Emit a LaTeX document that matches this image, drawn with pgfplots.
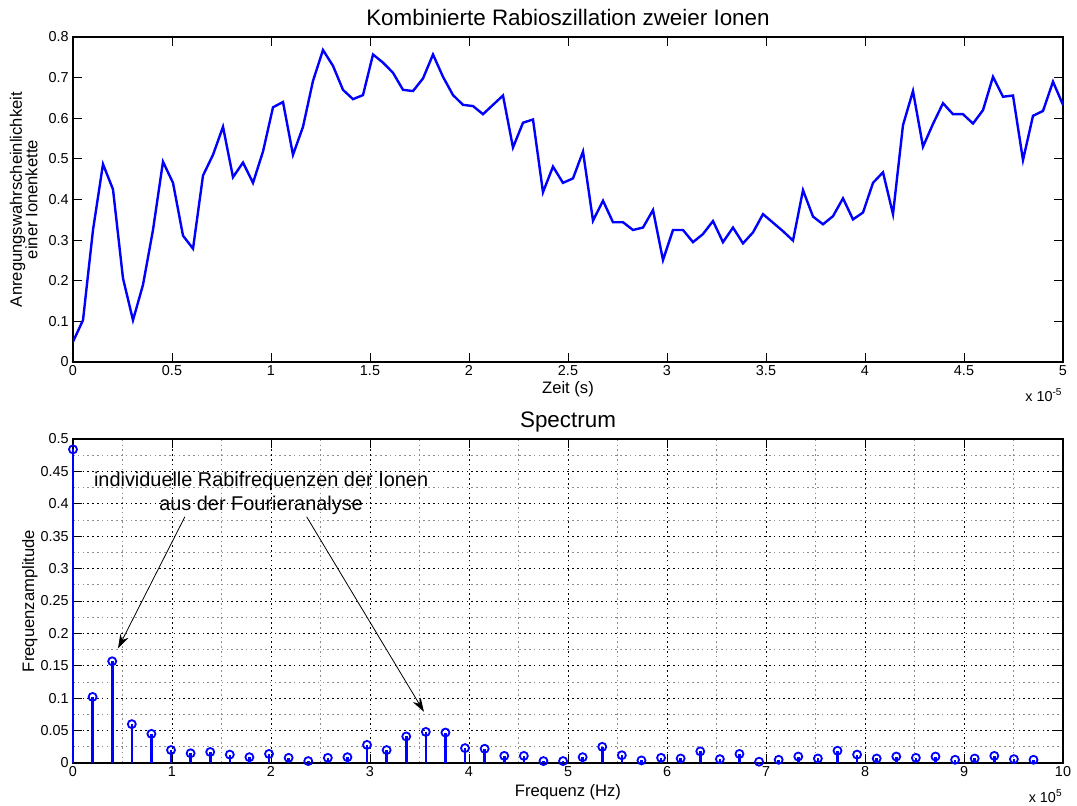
\documentclass[border=0pt]{standalone}
\usepackage{pgfplots}
\pgfplotsset{compat=1.18}
\usepackage{pgfplotstable}
\usepackage{fontspec}
\setmainfont{Liberation Sans}
\usetikzlibrary{arrows.meta}

% Rabi oscillation of the two-ion chain (time in units of 1e-5 s)
\pgfplotstableread{
t y
0.0000 0.050
0.0505 0.103
0.1010 0.325
0.1515 0.487
0.2020 0.425
0.2525 0.206
0.3030 0.103
0.3535 0.190
0.4040 0.325
0.4545 0.493
0.5051 0.441
0.5556 0.311
0.6061 0.279
0.6566 0.459
0.7071 0.510
0.7576 0.579
0.8081 0.455
0.8586 0.491
0.9091 0.441
0.9596 0.518
1.0101 0.627
1.0606 0.640
1.1111 0.510
1.1616 0.579
1.2121 0.692
1.2626 0.768
1.3131 0.729
1.3636 0.670
1.4141 0.647
1.4646 0.657
1.5152 0.757
1.5657 0.737
1.6162 0.712
1.6667 0.670
1.7172 0.667
1.7677 0.698
1.8182 0.757
1.8687 0.702
1.9192 0.657
1.9697 0.633
2.0202 0.630
2.0707 0.610
2.1212 0.633
2.1717 0.656
2.2222 0.528
2.2727 0.589
2.3232 0.597
2.3737 0.418
2.4242 0.481
2.4747 0.441
2.5253 0.452
2.5758 0.518
2.6263 0.348
2.6768 0.397
2.7273 0.344
2.7778 0.344
2.8283 0.325
2.8788 0.331
2.9293 0.374
2.9798 0.251
3.0303 0.325
3.0808 0.325
3.1313 0.295
3.1818 0.315
3.2323 0.347
3.2828 0.295
3.3333 0.331
3.3838 0.292
3.4343 0.319
3.4848 0.364
3.5354 0.343
3.5859 0.322
3.6364 0.299
3.6869 0.423
3.7374 0.358
3.7879 0.339
3.8384 0.359
3.8889 0.403
3.9394 0.351
3.9899 0.368
4.0404 0.441
4.0909 0.467
4.1414 0.364
4.1919 0.583
4.2424 0.667
4.2929 0.530
4.3434 0.586
4.3939 0.637
4.4444 0.610
4.4949 0.610
4.5455 0.587
4.5960 0.620
4.6465 0.702
4.6970 0.653
4.7475 0.656
4.7980 0.497
4.8485 0.606
4.8990 0.618
4.9495 0.690
5.0000 0.633
}\rabidata

% Fourier spectrum (frequency in units of 1e5 Hz)
\pgfplotstableread{
f a
0.000 0.484
0.198 0.102
0.396 0.157
0.594 0.060
0.792 0.045
0.990 0.020
1.188 0.015
1.386 0.017
1.584 0.013
1.782 0.009
1.980 0.014
2.178 0.008
2.376 0.003
2.574 0.008
2.772 0.009
2.970 0.028
3.168 0.020
3.366 0.041
3.564 0.048
3.762 0.047
3.960 0.023
4.158 0.022
4.356 0.011
4.554 0.011
4.752 0.003
4.950 0.003
5.148 0.009
5.346 0.025
5.544 0.012
5.742 0.004
5.940 0.008
6.138 0.007
6.336 0.018
6.534 0.006
6.732 0.014
6.930 0.002
7.128 0.005
7.326 0.010
7.524 0.007
7.722 0.019
7.920 0.013
8.118 0.007
8.316 0.010
8.514 0.008
8.712 0.010
8.910 0.005
9.108 0.007
9.306 0.011
9.504 0.006
9.702 0.005
}\spectrum

\pgfplotsset{
  matlab/.style={
    scale only axis,
    width=495pt,
    clip mode=individual,
    axis line style={black, line width=0.6pt},
    tick align=inside,
    tick pos=both,
    major tick length=4.5pt,
    tick style={black, line width=0.5pt},
    scaled ticks=false,
    /pgf/number format/assume math mode=true,
    /pgf/number format/fixed,
    /pgf/number format/precision=2,
    tick label style={font=\fontsize{7.2}{8}\selectfont},
    xticklabel style={inner sep=1.5pt},
    yticklabel style={inner sep=2pt},
    label style={font=\fontsize{8.3}{7.8}\selectfont},
    every axis title/.style={at={(0.5,1)}, anchor=base, inner sep=0pt,
      yshift=6pt, font=\fontsize{11.2}{13}\selectfont},
  },
}

\begin{document}
\begin{tikzpicture}
\begin{axis}[
  matlab,
  at={(36.5pt,-181pt)}, anchor=south west,
  height=162.5pt,
  xmin=0, xmax=5, ymin=0, ymax=0.8,
  xtick={0,0.5,1,1.5,2,2.5,3,3.5,4,4.5,5},
  ytick={0,0.1,0.2,0.3,0.4,0.5,0.6,0.7,0.8},
  title={Kombinierte Rabioszillation zweier Ionen},
  xlabel={Zeit (s)},
  xlabel style={at={(axis description cs:0.5,0)}, anchor=north, inner sep=0pt, yshift=-9.5pt},
  ylabel={Anregungswahrscheinlichkeit\\einer Ionenkette},
  ylabel style={at={(axis description cs:-0.0354,0.5)}, anchor=south, inner sep=0pt, align=center},
]
\addplot[color={rgb,255:red,0;green,0;blue,255}, line width=1.2pt] table[x=t, y=y] {\rabidata};
\node[anchor=north east, inner sep=0pt, font=\fontsize{7.2}{8}\selectfont]
  at ([yshift=-13pt]rel axis cs:1,0) {x 10\textsuperscript{-5}};
\end{axis}

\begin{axis}[
  matlab,
  at={(36.5pt,-381.5pt)}, anchor=south west,
  height=162pt,
  clip=false,
  xmin=0, xmax=10, ymin=0, ymax=0.5,
  xtick={0,1,2,3,4,5,6,7,8,9,10},
  ytick={0,0.05,0.1,0.15,0.2,0.25,0.3,0.35,0.4,0.45,0.5},
  minor x tick num=1, minor y tick num=1,
  minor tick length=0pt,
  grid=both,
  major grid style={black, line width=0.45pt, dash pattern=on 0.8pt off 1.6pt},
  minor grid style={black!45, line width=0.4pt, dash pattern=on 0.8pt off 1.6pt},
  title={Spectrum},
  xlabel={Frequenz (Hz)},
  xlabel style={at={(axis description cs:0.5,0)}, anchor=north, inner sep=0pt, yshift=-10.5pt},
  ylabel={Frequenzamplitude},
  ylabel style={at={(axis description cs:-0.0354,0.5)}, anchor=south, inner sep=0pt},
]
\addplot[ycomb, color={rgb,255:red,0;green,0;blue,255}, line width=1.3pt,
  mark=o, mark size=2pt, mark options={solid, line width=0.9pt}]
  table[x=f, y=a] {\spectrum};
\node[align=center, font=\fontsize{9.95}{12}\selectfont, inner sep=0pt]
  at (axis cs:1.90,0.4165) {individuelle Rabifrequenzen der Ionen\\aus der Fourieranalyse};
\draw[-{Stealth[length=7pt, width=4.5pt]}, line width=0.4pt]
  (axis cs:1.13,0.380) -- (axis cs:0.455,0.177);
\draw[-{Stealth[length=7pt, width=4.5pt]}, line width=0.4pt]
  (axis cs:2.36,0.380) -- (axis cs:3.545,0.079);
\node[anchor=north east, inner sep=0pt, font=\fontsize{7.2}{8}\selectfont]
  at ([yshift=-13pt]rel axis cs:1,0) {x 10\textsuperscript{5}};
\end{axis}

\pgfresetboundingbox
\path (0pt,0pt) rectangle (538.5pt,-402.5pt);
\end{tikzpicture}
\end{document}
